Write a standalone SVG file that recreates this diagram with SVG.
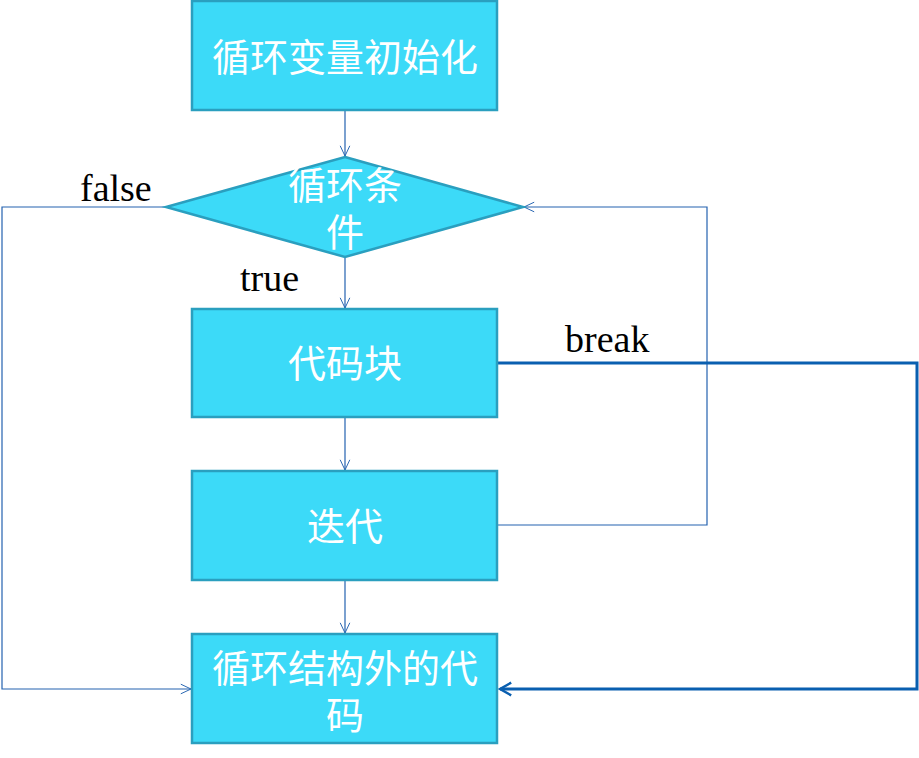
<svg xmlns="http://www.w3.org/2000/svg" width="919" height="758" viewBox="0 0 919 758">
<defs>
<style>
.node{fill:#3cdaf8;stroke:#2a9fbf;stroke-width:2.5}
.nt{fill:#ffffff;font-family:"Noto Sans CJK SC","Noto Sans",sans-serif;font-size:38px;text-anchor:middle}
.lbl{fill:#000000;font-family:"Liberation Serif",serif;font-size:38px}
.c{fill:none;stroke:#2462b0;stroke-width:1.2}
.cb{fill:none;stroke:#0a5fb0;stroke-width:3}
</style>
<marker id="a" viewBox="0 0 20 20" refX="19" refY="10" markerWidth="12" markerHeight="12" markerUnits="userSpaceOnUse" orient="auto"><path d="M2,2 L19,10 L2,18" fill="none" stroke="#2462b0" stroke-width="1.6"/></marker>
<marker id="ab" viewBox="0 0 20 20" refX="18" refY="10" markerWidth="16" markerHeight="16" markerUnits="userSpaceOnUse" orient="auto"><path d="M4,2 L18,10 L4,18" fill="none" stroke="#0a5fb0" stroke-width="3"/></marker>
</defs>
<rect width="919" height="758" fill="#ffffff"/>
<g id="connectors">
<path class="c" d="M345,111 V156" marker-end="url(#a)"/>
<path class="c" d="M345,257 V308" marker-end="url(#a)"/>
<path class="c" d="M345,418 V470" marker-end="url(#a)"/>
<path class="c" d="M345,581 V633" marker-end="url(#a)"/>
<path class="c" d="M166,207 H2 V689 H191" marker-end="url(#a)"/>
<path class="c" d="M498,525 H707 V207 H524" marker-end="url(#a)"/>
<path class="cb" d="M498,363 H917 V689 H500" marker-end="url(#ab)"/>
</g>
<g id="init"><rect class="node" x="192" y="1" width="305" height="109"/><text class="nt" x="345" y="71">循环变量初始化</text></g>
<g id="cond"><polygon class="node" points="345,157 523,207 345,257 166,207"/><text class="nt" x="345" y="199">循环条<tspan x="345" dy="47">件</tspan></text></g>
<g id="body"><rect class="node" x="192" y="309" width="305" height="108"/><text class="nt" x="345" y="377">代码块</text></g>
<g id="iter"><rect class="node" x="192" y="471" width="305" height="109"/><text class="nt" x="345" y="540">迭代</text></g>
<g id="after"><rect class="node" x="192" y="634" width="305" height="109"/><text class="nt" x="345" y="682">循环结构外的代<tspan x="345" dy="47">码</tspan></text></g>
<g id="labels">
<text class="lbl" x="80" y="201">false</text>
<text class="lbl" x="240" y="291">true</text>
<text class="lbl" x="565" y="352">break</text>
</g>
</svg>
